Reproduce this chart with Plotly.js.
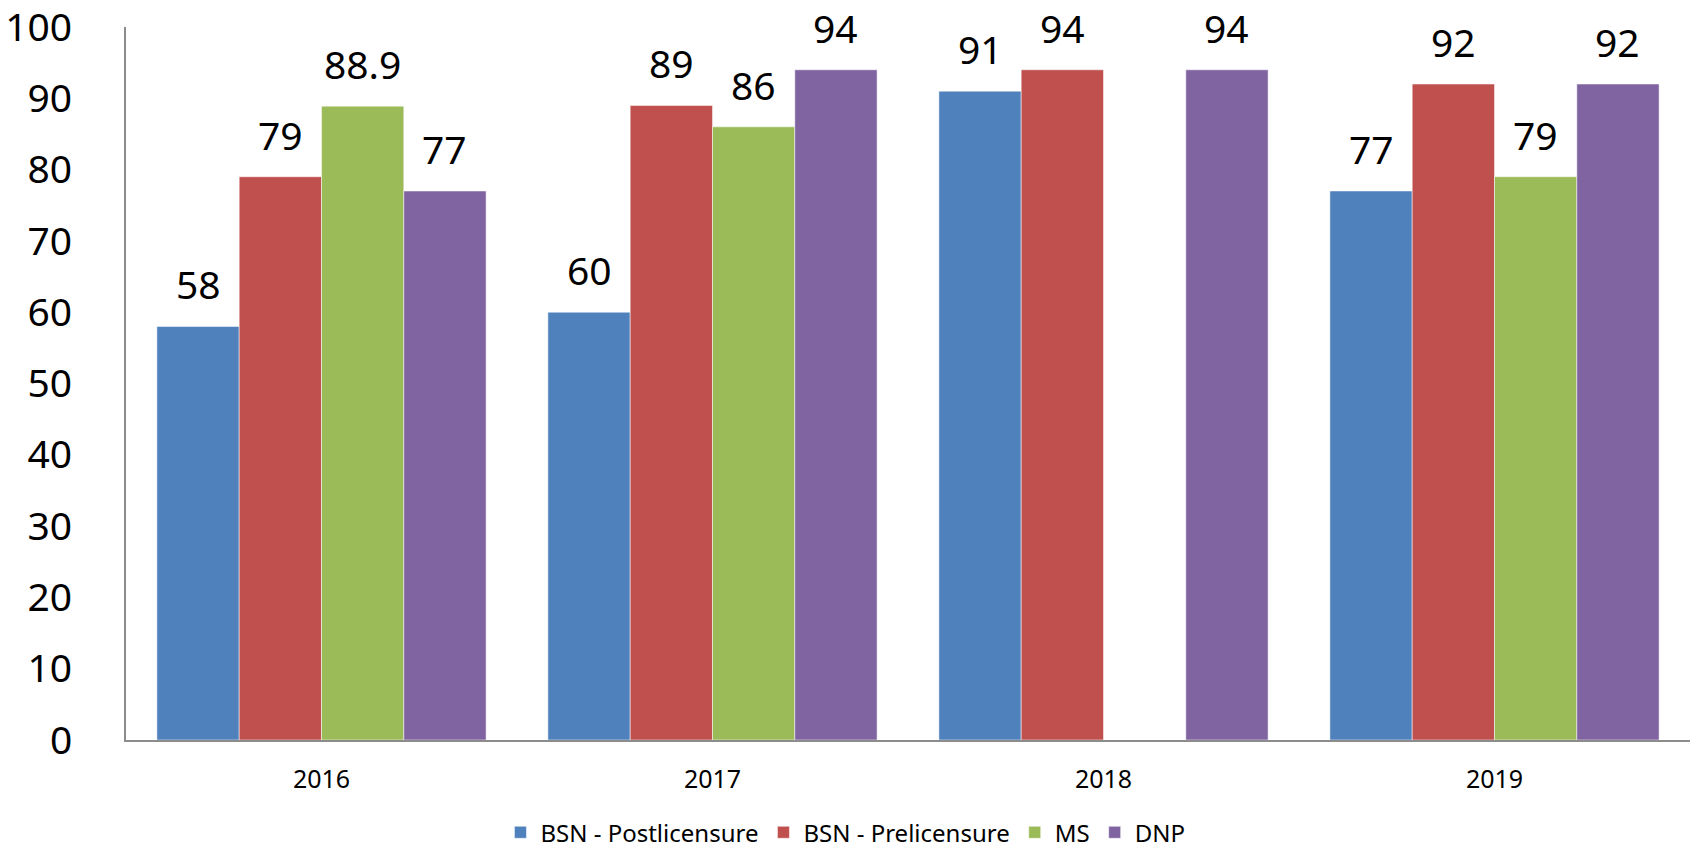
<!DOCTYPE html>
<html>
<head>
<meta charset="utf-8">
<script src="https://cdn.plot.ly/plotly-3.0.1.min.js"></script>
<style>html,body{margin:0;padding:0;background:#fff;}#chart{width:1694px;height:851px;}</style>
</head>
<body>
<div id="chart"></div>
<script>
var years = ["2016", "2017", "2018", "2019"];
var seriesNames = ["BSN - Postlicensure", "BSN - Prelicensure", "MS", "DNP"];
var bsnPost = [58, 60, 91, 77];
var bsnPre = [79, 89, 94, 92];
var ms = [88.9, 86, null, 79];
var dnp = [77, 94, 94, 92];
var labelsPost = ["58", "60", "91", "77"];
var labelsPre = ["79", "89", "94", "92"];
var labelsMs = ["88.9", "86", "", "79"];
var labelsDnp = ["77", "94", "94", "92"];
var yTicks = [0, 10, 20, 30, 40, 50, 60, 70, 80, 90, 100];

var colors = ["#4F81BD", "#C0504D", "#9BBB59", "#8064A2"];
var values = [bsnPost, bsnPre, ms, dnp];
var labels = [labelsPost, labelsPre, labelsMs, labelsDnp];
var FONT = "Noto Sans, sans-serif";
var xIdx = years.map(function (_, j) { return j; });

var W = 1694, H = 851;
var margin = {l: 126, r: 4, t: 27, b: 111, autoexpand: false};
var bargap = 0.158;
var plotW = W - margin.l - margin.r;
var catW = plotW / years.length;
var barW = catW * (1 - bargap) / values.length;

var traces = values.map(function (v, i) {
  return {
    type: "bar",
    name: seriesNames[i],
    x: xIdx,
    y: v,
    marker: {color: colors[i], line: {color: "rgba(255,255,255,0.5)", width: 1}},
    hoverinfo: "skip"
  };
});

var annotations = [];
values.forEach(function (v, i) {
  v.forEach(function (val, j) {
    if (val === null) return;
    annotations.push({
      x: xIdx[j], y: val, xref: "x", yref: "y",
      text: labels[i][j], showarrow: false,
      xanchor: "center", yanchor: "bottom",
      xshift: (i - (values.length - 1) / 2) * barW,
      yshift: 14,
      font: {family: FONT, size: 39, color: "#000"}
    });
  });
});

var layout = {
  width: W, height: H,
  margin: margin,
  paper_bgcolor: "#fff", plot_bgcolor: "#fff",
  barmode: "group",
  bargap: bargap, bargroupgap: 0,
  showlegend: true,
  legend: {
    orientation: "h", x: 0.46, xanchor: "center", y: -0.13, yanchor: "middle",
    font: {family: FONT, size: 24, color: "#000"},
    itemwidth: 30, tracegroupgap: 0
  },
  xaxis: {
    range: [-0.5, years.length - 0.5],
    tickvals: xIdx, ticktext: years,
    showline: true, linecolor: "#8c8c8c", linewidth: 2,
    showgrid: false, zeroline: false, ticks: "",
    ticklabelstandoff: 16,
    tickfont: {family: FONT, size: 25, color: "#000"}
  },
  yaxis: {
    range: [0, 100],
    tickvals: yTicks,
    ticklabeloverflow: "allow",
    showline: true, linecolor: "#8c8c8c", linewidth: 2,
    showgrid: false, zeroline: false, ticks: "",
    ticklabelstandoff: 44,
    tickfont: {family: FONT, size: 39, color: "#000"}
  },
  annotations: annotations
};

Plotly.newPlot("chart", traces, layout, {displayModeBar: false, staticPlot: true});
</script>
</body>
</html>
